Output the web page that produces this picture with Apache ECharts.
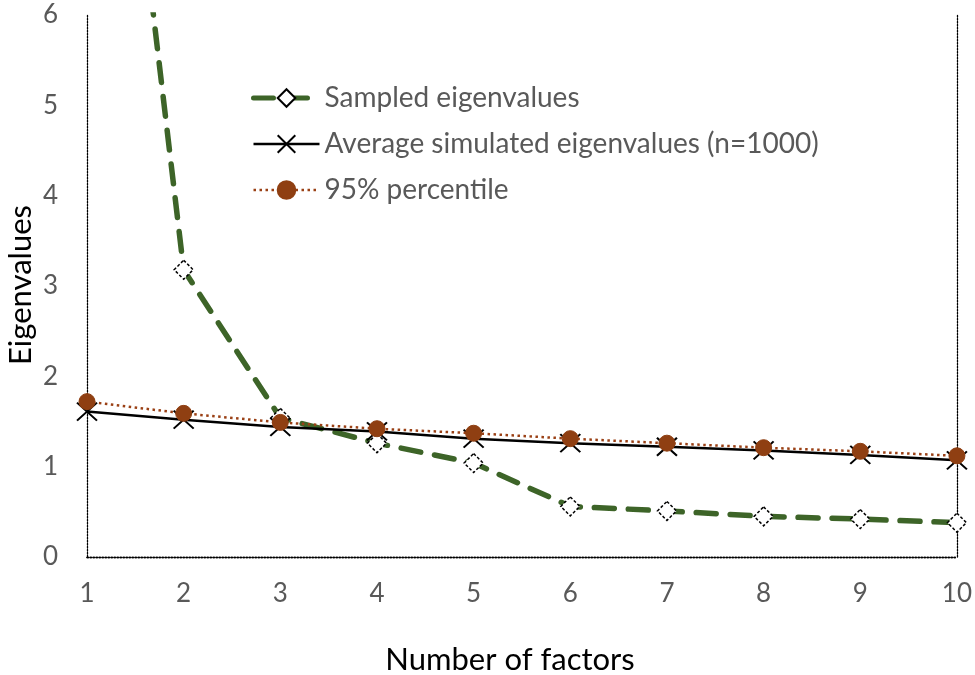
<!DOCTYPE html>
<html>
<head>
<meta charset="utf-8">
<script src="https://cdn.jsdelivr.net/npm/echarts@6/dist/echarts.min.js"></script>
<style>html,body{margin:0;padding:0;background:#fff}#c{width:975px;height:675px}</style>
</head>
<body>
<div id="c"></div>
<script>
const factors = ['1','2','3','4','5','6','7','8','9','10'];
const sampled = [12.2, 3.18, 1.54, 1.26, 1.04, 0.56, 0.51, 0.45, 0.42, 0.38];
const averageSim = [1.61, 1.52, 1.44, 1.39, 1.31, 1.26, 1.22, 1.18, 1.13, 1.07];
const percentile95 = [1.72, 1.59, 1.49, 1.42, 1.37, 1.31, 1.26, 1.21, 1.17, 1.12];
const yTicks = [0, 6, 1];
const names = ['Sampled eigenvalues', 'Average simulated eigenvalues (n=1000)', '95% percentile'];

const FONT = 'Lato';
const chart = echarts.init(document.getElementById('c'), null, {renderer: 'canvas'});
const dotted = {color: '#000', width: 1.3, type: [1.5, 1.5]};
chart.setOption({
  animation: false,
  backgroundColor: '#fff',
  textStyle: {fontFamily: FONT},
  grid: {left: 87, right: 18, top: 15, bottom: 118, containLabel: false},
  legend: {
    orient: 'vertical', left: 246, top: 79, itemWidth: 66, itemHeight: 22, itemGap: 18,
    textStyle: {fontSize: 28, color: '#595959', fontFamily: FONT},
    data: [
      {name: names[0], lineStyle: {width: 5, type: [20, 14], color: '#3d6428', cap: 'round'}},
      {name: names[1], lineStyle: {width: 2.5, color: '#000'}},
      {name: names[2], lineStyle: {width: 2.5, color: '#9a4015', type: [2.5, 3.5]}}
    ]
  },
  xAxis: [{
    type: 'category', data: factors, boundaryGap: false,
    axisLine: {lineStyle: dotted}, axisTick: {show: false},
    axisLabel: {color: '#595959', fontSize: 26, margin: 24, fontFamily: FONT},
    splitLine: {show: false}
  }, {
    type: 'category', data: factors, boundaryGap: false, position: 'top',
    axisLine: {lineStyle: dotted}, axisTick: {show: false}, axisLabel: {show: false}
  }],
  yAxis: [{
    type: 'value', min: yTicks[0], max: yTicks[1], interval: yTicks[2],
    axisLine: {show: true, lineStyle: dotted}, axisTick: {show: false},
    axisLabel: {color: '#595959', fontSize: 26, margin: 29, fontFamily: FONT},
    splitLine: {show: false}
  }, {
    type: 'value', min: yTicks[0], max: yTicks[1], interval: yTicks[2], position: 'right',
    axisLine: {show: true, lineStyle: dotted}, axisTick: {show: false}, axisLabel: {show: false},
    splitLine: {show: false}
  }],
  graphic: [
    {type: 'text', x: 510, y: 660, style: {text: 'Number of factors', fontSize: 31, fontFamily: FONT, fill: '#000', align: 'center', verticalAlign: 'middle'}},
    {type: 'text', x: 21, y: 285, rotation: Math.PI / 2, style: {text: 'Eigenvalues', fontSize: 31, fontFamily: FONT, fill: '#000', align: 'center', verticalAlign: 'middle'}}
  ],
  series: [
    {
      name: names[0], type: 'line', data: sampled, clip: true, z: 3,
      lineStyle: {color: '#3d6428', width: 5.5, type: [20, 14], cap: 'round'},
      symbol: 'diamond', symbolSize: [19, 19],
      itemStyle: {color: '#fff', borderColor: '#000', borderWidth: 1.5, borderType: [3, 2]}
    },
    {
      name: names[1], type: 'line', data: averageSim, z: 4,
      lineStyle: {color: '#000', width: 2.5},
      symbol: 'path://M0,0L10,10M10,0L0,10', symbolSize: [20, 18], symbolKeepAspect: false,
      itemStyle: {color: 'none', borderColor: '#000', borderWidth: 2}
    },
    {
      name: names[2], type: 'line', data: percentile95, z: 5,
      lineStyle: {color: '#9a4015', width: 2.5, type: [2.5, 3.5]},
      symbol: 'circle', symbolSize: 16,
      itemStyle: {color: '#8f3f12', borderColor: '#8f3f12', borderWidth: 1}
    }
  ]
});
</script>
</body>
</html>
